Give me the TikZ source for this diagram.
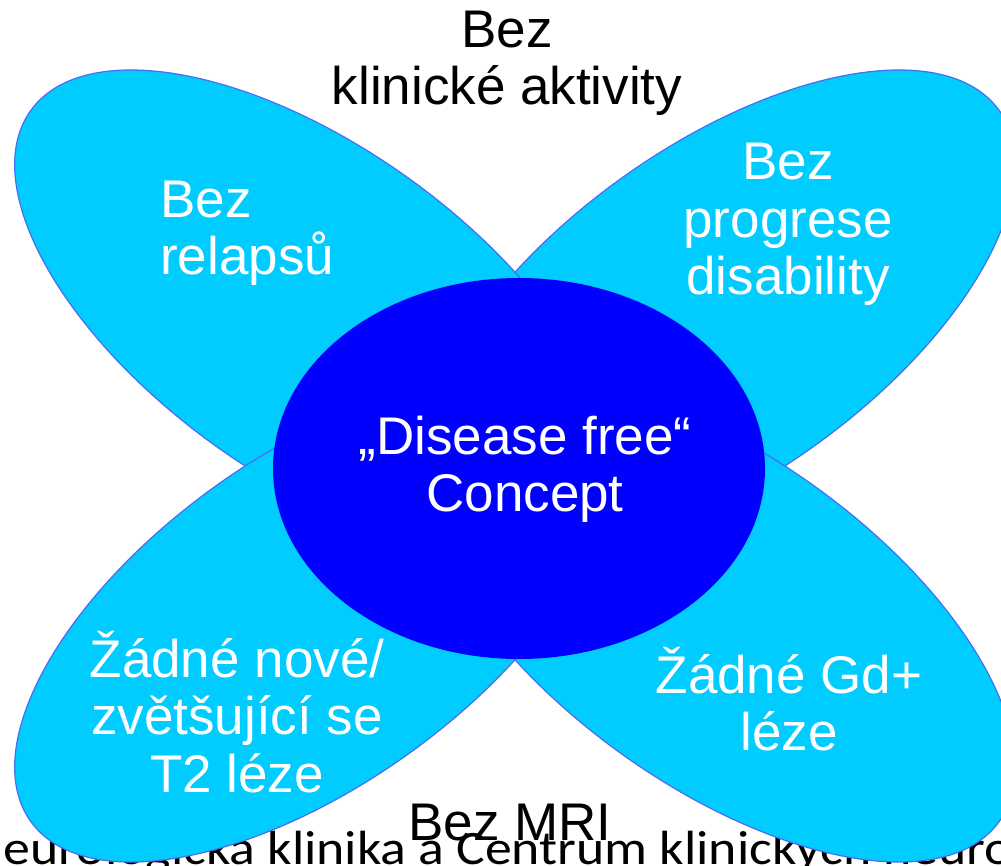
\documentclass[tikz,border=0pt]{standalone}
\usepackage{fontspec}
\setmainfont{Liberation Sans}
\newfontfamily\footfont{Carlito}
\definecolor{petalfill}{RGB}{0,204,255}
\definecolor{petalline}{RGB}{72,110,240}
\definecolor{corefill}{RGB}{0,0,255}
\begin{document}
\begin{tikzpicture}[x=1pt,y=1pt,
  petal/.style={fill=petalfill, draw=petalline, line width=1.2pt},
  core/.style={fill=corefill, draw=none},
  lbl/.style={font=\fontsize{53}{57.5}\selectfont, inner sep=0pt, align=center, anchor=base},
  wlbl/.style={lbl, text=white}]
\useasboundingbox (0,0) rectangle (1001,865);
\clip (0,0) rectangle (1001,865);
% footer (partly hidden)
\node[font=\footfont\fontsize{48}{58}\selectfont, anchor=base west, inner sep=0pt, transform shape, xscale=1.12] (footer) at (-31,1) {Neurologická klinika a Centrum klinických neurověd};
% petals
\draw[petal] (718,553) ellipse [x radius=346, y radius=165, rotate=35.6];
\draw[petal] (312,553) ellipse [x radius=346, y radius=165, rotate=-35.6];
\draw[petal] (312,245) ellipse [x radius=346, y radius=165, rotate=35.6];
\draw[petal] (718,245) ellipse [x radius=346, y radius=165, rotate=-35.6];
% centre
\draw[core] (519,396.5) ellipse [x radius=246, y radius=190.5];
% texts (base anchor = baseline of the last line)
\node[lbl] (title) at (507,760) {Bez\\klinické aktivity};
\node[wlbl, align=left, anchor=base west] (tl) at (160,590) {Bez\\relapsů};
\node[wlbl] (tr) at (788,570) {Bez\\progrese\\disability};
\node[wlbl] (center) at (525,353) {„Disease free“\\Concept};
\node[wlbl] (bl) at (237,73) {Žádné nové/\\zvětšující se\\T2 léze};
\node[wlbl] (br) at (789,114) {Žádné Gd+\\léze};
\node[lbl] (mri) at (510,25) {Bez MRI};
\end{tikzpicture}
\end{document}
